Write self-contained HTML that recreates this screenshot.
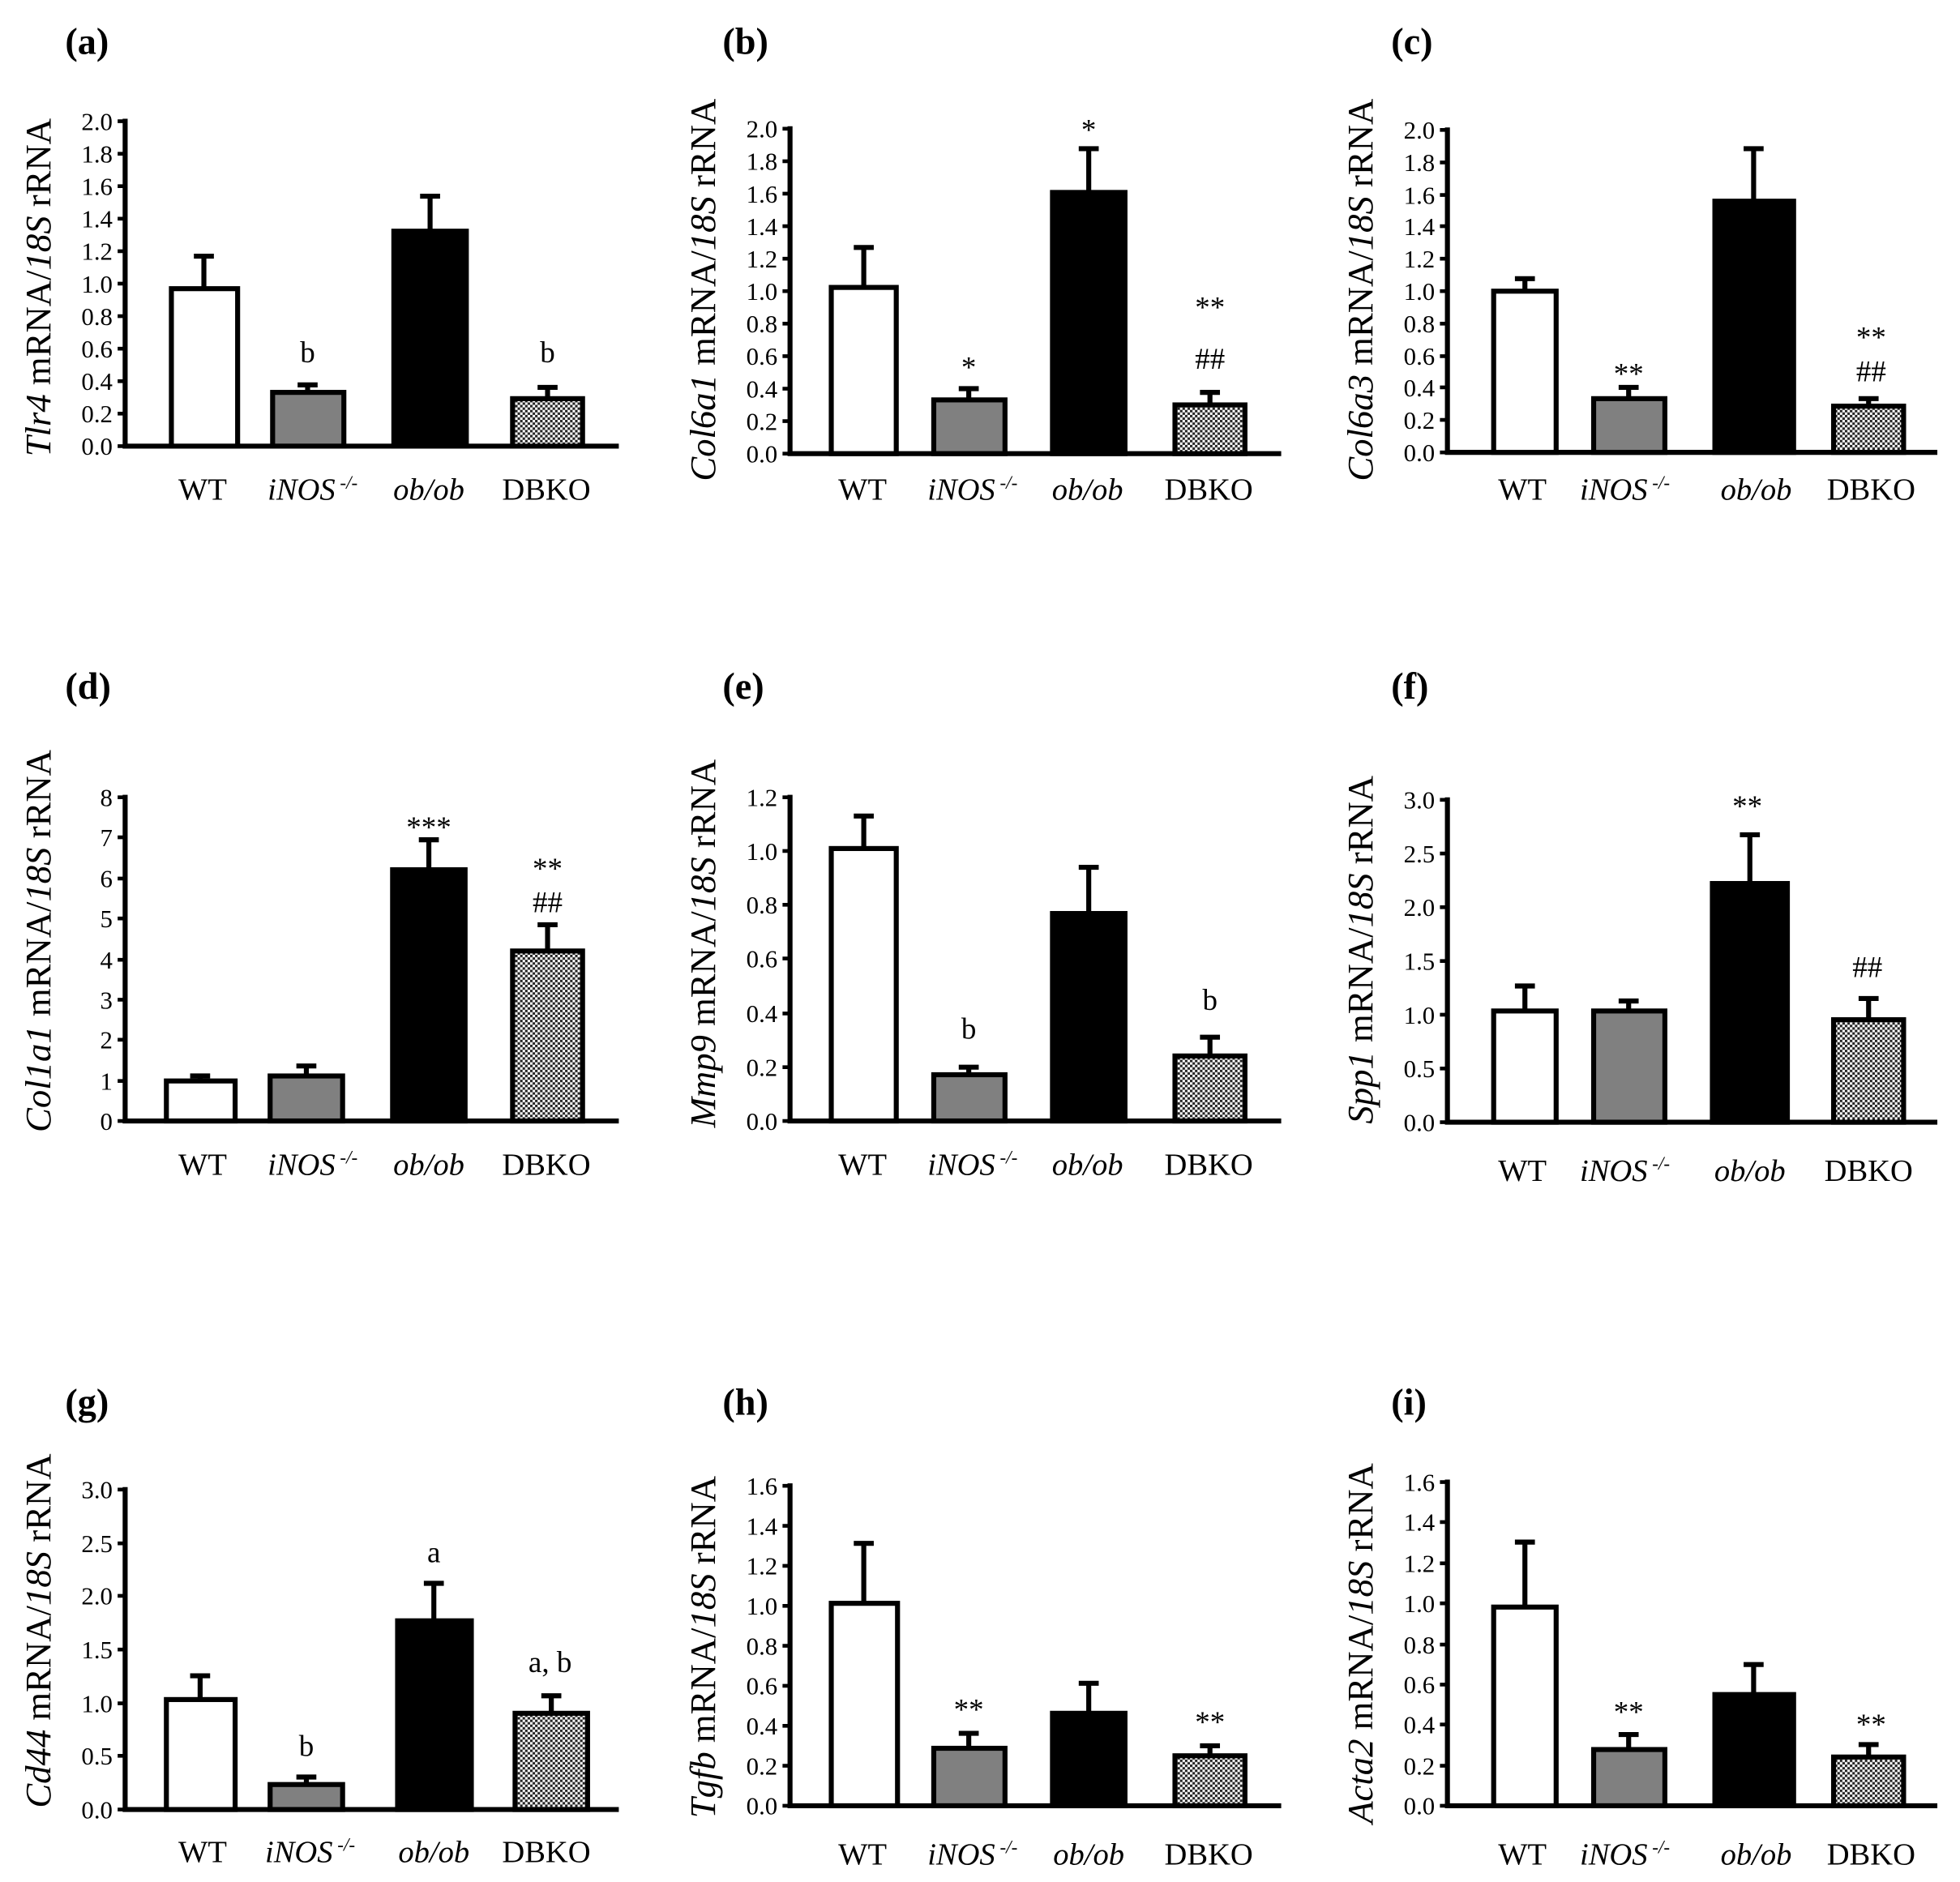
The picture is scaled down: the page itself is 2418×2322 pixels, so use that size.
<!DOCTYPE html>
<html><head><meta charset="utf-8"><style>html,body{margin:0;padding:0;background:#fff}svg{display:block}</style></head>
<body>
<svg xmlns="http://www.w3.org/2000/svg" width="2418" height="2322" viewBox="0 0 1568 1506" font-family="'Liberation Serif', serif">
<defs>
<pattern id="dots" width="4" height="4" patternUnits="userSpaceOnUse">
<rect width="4" height="4" fill="#fff"/><rect width="2" height="2" fill="#222"/><rect x="2" y="2" width="2" height="2" fill="#222"/>
</pattern>
</defs>
<style>
.ax{stroke:#000;stroke-width:4;fill:none}
.tk{stroke:#000;stroke-width:3;fill:none}
.bar{stroke:#000;stroke-width:4}
.eb{stroke:#000;stroke-width:4;fill:none}
.tl{font-size:20px;text-anchor:end}
.xl{font-size:25px;text-anchor:middle}
.pl{font-size:30px;font-weight:bold}
.yt{font-size:29px;text-anchor:middle}
.an{font-size:24px;text-anchor:middle}
</style>

<!-- Panel a -->
<text class="pl" x="52" y="43">(a)</text>
<text class="yt" transform="translate(40,230) rotate(-90)"><tspan font-style="italic">Tlr4</tspan> mRNA/<tspan font-style="italic">18S</tspan> rRNA</text>
<path class="ax" d="M100 95V357H495"/>
<path class="tk" d="M94 357H100M94 331H100M94 305H100M94 279H100M94 253H100M94 227H100M94 201H100M94 175H100M94 149H100M94 123H100M94 97H100"/>
<g class="tl"><text x="90" y="364">0.0</text><text x="90" y="338">0.2</text><text x="90" y="312">0.4</text><text x="90" y="286">0.6</text><text x="90" y="260">0.8</text><text x="90" y="234">1.0</text><text x="90" y="208">1.2</text><text x="90" y="182">1.4</text><text x="90" y="156">1.6</text><text x="90" y="130">1.8</text><text x="90" y="104">2.0</text></g>
<path class="eb" d="M163 231V205M155 205H171M246 314V308M238 308H254M344 185V157M336 157H352M438 319V310M430 310H446"/>
<rect class="bar" x="137" y="231" width="53" height="126" fill="#fff"/>
<rect class="bar" x="218" y="314" width="57" height="43" fill="#808080"/>
<rect class="bar" x="315" y="185" width="58" height="172" fill="#000"/>
<rect class="bar" x="410" y="319" width="56" height="38" fill="url(#dots)"/>
<text class="an" x="246" y="290">b</text><text class="an" x="438" y="290">b</text>
<g class="xl"><text x="162" y="400">WT</text><text x="250" y="400"><tspan font-style="italic">iNOS</tspan><tspan font-size="15" dy="-9" font-style="italic"> -/-</tspan></text><text x="343" y="400" font-style="italic">ob/ob</text><text x="437" y="400">DBKO</text></g>

<!-- Panel b -->
<text class="pl" x="578" y="43">(b)</text>
<text class="yt" transform="translate(572,232) rotate(-90)"><tspan font-style="italic">Col6a1</tspan> mRNA/<tspan font-style="italic">18S</tspan> rRNA</text>
<path class="ax" d="M632 101V363H1025"/>
<path class="tk" d="M626 363H632M626 337H632M626 311H632M626 285H632M626 259H632M626 233H632M626 207H632M626 181H632M626 155H632M626 129H632M626 103H632"/>
<g class="tl"><text x="622" y="370">0.0</text><text x="622" y="344">0.2</text><text x="622" y="318">0.4</text><text x="622" y="292">0.6</text><text x="622" y="266">0.8</text><text x="622" y="240">1.0</text><text x="622" y="214">1.2</text><text x="622" y="188">1.4</text><text x="622" y="162">1.6</text><text x="622" y="136">1.8</text><text x="622" y="110">2.0</text></g>
<path class="eb" d="M691 230V198M683 198H699M775 320V311M767 311H783M871 154V119M863 119H879M968 324V314M960 314H976"/>
<rect class="bar" x="665" y="230" width="52" height="133" fill="#fff"/>
<rect class="bar" x="747" y="320" width="57" height="43" fill="#808080"/>
<rect class="bar" x="842" y="154" width="58" height="209" fill="#000"/>
<rect class="bar" x="940" y="324" width="56" height="39" fill="url(#dots)"/>
<text class="an" x="775" y="302">*</text><text class="an" x="871" y="112">*</text><text class="an" x="968" y="254">**</text><text class="an" x="968" y="295">##</text>
<g class="xl"><text x="690" y="400">WT</text><text x="778" y="400"><tspan font-style="italic">iNOS</tspan><tspan font-size="15" dy="-9" font-style="italic"> -/-</tspan></text><text x="870" y="400" font-style="italic">ob/ob</text><text x="967" y="400">DBKO</text></g>

<!-- Panel c -->
<text class="pl" x="1113" y="43">(c)</text>
<text class="yt" transform="translate(1098,232) rotate(-90)"><tspan font-style="italic">Col6a3</tspan> mRNA/<tspan font-style="italic">18S</tspan> rRNA</text>
<path class="ax" d="M1158 102V362H1550"/>
<path class="tk" d="M1152 362H1158M1152 336H1158M1152 310H1158M1152 285H1158M1152 259H1158M1152 233H1158M1152 207H1158M1152 181H1158M1152 156H1158M1152 130H1158M1152 104H1158"/>
<g class="tl"><text x="1148" y="369">0.0</text><text x="1148" y="343">0.2</text><text x="1148" y="317">0.4</text><text x="1148" y="292">0.6</text><text x="1148" y="266">0.8</text><text x="1148" y="240">1.0</text><text x="1148" y="214">1.2</text><text x="1148" y="188">1.4</text><text x="1148" y="163">1.6</text><text x="1148" y="137">1.8</text><text x="1148" y="111">2.0</text></g>
<path class="eb" d="M1220 233V223M1212 223H1228M1303 319V310M1295 310H1311M1403 161V119M1395 119H1411M1495 325V319M1487 319H1503"/>
<rect class="bar" x="1195" y="233" width="50" height="129" fill="#fff"/>
<rect class="bar" x="1275" y="319" width="57" height="43" fill="#808080"/>
<rect class="bar" x="1372" y="161" width="63" height="201" fill="#000"/>
<rect class="bar" x="1467" y="325" width="56" height="37" fill="url(#dots)"/>
<text class="an" x="1303" y="307">**</text><text class="an" x="1497" y="278">**</text><text class="an" x="1497" y="305">##</text>
<g class="xl"><text x="1218" y="400">WT</text><text x="1300" y="400"><tspan font-style="italic">iNOS</tspan><tspan font-size="15" dy="-9" font-style="italic"> -/-</tspan></text><text x="1405" y="400" font-style="italic">ob/ob</text><text x="1497" y="400">DBKO</text></g>

<!-- Panel d -->
<text class="pl" x="52" y="559">(d)</text>
<text class="yt" transform="translate(40,753) rotate(-90)"><tspan font-style="italic">Col1a1</tspan> mRNA/<tspan font-style="italic">18S</tspan> rRNA</text>
<path class="ax" d="M100 636V897H495"/>
<path class="tk" d="M94 897H100M94 865H100M94 832H100M94 800H100M94 768H100M94 735H100M94 703H100M94 670H100M94 638H100"/>
<g class="tl"><text x="90" y="904">0</text><text x="90" y="872">1</text><text x="90" y="839">2</text><text x="90" y="807">3</text><text x="90" y="775">4</text><text x="90" y="742">5</text><text x="90" y="710">6</text><text x="90" y="677">7</text><text x="90" y="645">8</text></g>
<path class="eb" d="M160 865V861M152 861H168M245 861V853M237 853H253M343 696V672M335 672H351M438 761V740M430 740H446"/>
<rect class="bar" x="133" y="865" width="55" height="32" fill="#fff"/>
<rect class="bar" x="216" y="861" width="58" height="36" fill="#808080"/>
<rect class="bar" x="314" y="696" width="58" height="201" fill="#000"/>
<rect class="bar" x="410" y="761" width="56" height="136" fill="url(#dots)"/>
<text class="an" x="343" y="670">***</text><text class="an" x="438" y="703">**</text><text class="an" x="438" y="730">##</text>
<g class="xl"><text x="162" y="940">WT</text><text x="250" y="940"><tspan font-style="italic">iNOS</tspan><tspan font-size="15" dy="-9" font-style="italic"> -/-</tspan></text><text x="343" y="940" font-style="italic">ob/ob</text><text x="437" y="940">DBKO</text></g>

<!-- Panel e -->
<text class="pl" x="578" y="559">(e)</text>
<text class="yt" transform="translate(572,755) rotate(-90)"><tspan font-style="italic">Mmp9</tspan> mRNA/<tspan font-style="italic">18S</tspan> rRNA</text>
<path class="ax" d="M632 636V897H1025"/>
<path class="tk" d="M626 897H632M626 854H632M626 811H632M626 767H632M626 724H632M626 681H632M626 638H632"/>
<g class="tl"><text x="622" y="904">0.0</text><text x="622" y="861">0.2</text><text x="622" y="818">0.4</text><text x="622" y="774">0.6</text><text x="622" y="731">0.8</text><text x="622" y="688">1.0</text><text x="622" y="645">1.2</text></g>
<path class="eb" d="M691 679V653M683 653H699M775 860V854M767 854H783M871 731V694M863 694H879M968 845V830M960 830H976"/>
<rect class="bar" x="665" y="679" width="52" height="218" fill="#fff"/>
<rect class="bar" x="747" y="860" width="57" height="37" fill="#808080"/>
<rect class="bar" x="842" y="731" width="58" height="166" fill="#000"/>
<rect class="bar" x="940" y="845" width="56" height="52" fill="url(#dots)"/>
<text class="an" x="775" y="831">b</text><text class="an" x="968" y="808">b</text>
<g class="xl"><text x="690" y="940">WT</text><text x="778" y="940"><tspan font-style="italic">iNOS</tspan><tspan font-size="15" dy="-9" font-style="italic"> -/-</tspan></text><text x="870" y="940" font-style="italic">ob/ob</text><text x="967" y="940">DBKO</text></g>

<!-- Panel f -->
<text class="pl" x="1113" y="559">(f)</text>
<text class="yt" transform="translate(1098,760) rotate(-90)"><tspan font-style="italic">Spp1</tspan> mRNA/<tspan font-style="italic">18S</tspan> rRNA</text>
<path class="ax" d="M1158 638V898H1550"/>
<path class="tk" d="M1152 898H1158M1152 855H1158M1152 812H1158M1152 769H1158M1152 726H1158M1152 683H1158M1152 640H1158"/>
<g class="tl"><text x="1148" y="905">0.0</text><text x="1148" y="862">0.5</text><text x="1148" y="819">1.0</text><text x="1148" y="776">1.5</text><text x="1148" y="733">2.0</text><text x="1148" y="690">2.5</text><text x="1148" y="647">3.0</text></g>
<path class="eb" d="M1220 809V789M1212 789H1228M1303 809V801M1295 801H1311M1400 707V668M1392 668H1408M1495 816V799M1487 799H1503"/>
<rect class="bar" x="1195" y="809" width="50" height="89" fill="#fff"/>
<rect class="bar" x="1275" y="809" width="57" height="89" fill="#808080"/>
<rect class="bar" x="1370" y="707" width="60" height="191" fill="#000"/>
<rect class="bar" x="1467" y="816" width="56" height="82" fill="url(#dots)"/>
<text class="an" x="1398" y="653">**</text><text class="an" x="1494" y="782">##</text>
<g class="xl"><text x="1218" y="945">WT</text><text x="1300" y="945"><tspan font-style="italic">iNOS</tspan><tspan font-size="15" dy="-9" font-style="italic"> -/-</tspan></text><text x="1400" y="945" font-style="italic">ob/ob</text><text x="1495" y="945">DBKO</text></g>

<!-- Panel g -->
<text class="pl" x="52" y="1132">(g)</text>
<text class="yt" transform="translate(40,1305) rotate(-90)"><tspan font-style="italic">Cd44</tspan> mRNA/<tspan font-style="italic">18S</tspan> rRNA</text>
<path class="ax" d="M100 1190V1448H495"/>
<path class="tk" d="M94 1448H100M94 1405H100M94 1363H100M94 1320H100M94 1277H100M94 1235H100M94 1192H100"/>
<g class="tl"><text x="90" y="1455">0.0</text><text x="90" y="1412">0.5</text><text x="90" y="1370">1.0</text><text x="90" y="1327">1.5</text><text x="90" y="1284">2.0</text><text x="90" y="1242">2.5</text><text x="90" y="1199">3.0</text></g>
<path class="eb" d="M160 1360V1341M152 1341H168M245 1428V1422M237 1422H253M347 1297V1267M339 1267H355M441 1371V1357M433 1357H449"/>
<rect class="bar" x="133" y="1360" width="55" height="88" fill="#fff"/>
<rect class="bar" x="216" y="1428" width="58" height="20" fill="#808080"/>
<rect class="bar" x="318" y="1297" width="59" height="151" fill="#000"/>
<rect class="bar" x="412" y="1371" width="58" height="77" fill="url(#dots)"/>
<text class="an" x="245" y="1405">b</text><text class="an" x="347" y="1250">a</text><text class="an" x="440" y="1338">a, b</text>
<g class="xl"><text x="162" y="1490">WT</text><text x="248" y="1490"><tspan font-style="italic">iNOS</tspan><tspan font-size="15" dy="-9" font-style="italic"> -/-</tspan></text><text x="347" y="1490" font-style="italic">ob/ob</text><text x="437" y="1490">DBKO</text></g>

<!-- Panel h -->
<text class="pl" x="578" y="1132">(h)</text>
<text class="yt" transform="translate(572,1318) rotate(-90)"><tspan font-style="italic">Tgfb</tspan> mRNA/<tspan font-style="italic">18S</tspan> rRNA</text>
<path class="ax" d="M632 1187V1445H1025"/>
<path class="tk" d="M626 1445H632M626 1413H632M626 1381H632M626 1349H632M626 1317H632M626 1285H632M626 1253H632M626 1221H632M626 1189H632"/>
<g class="tl"><text x="622" y="1452">0.0</text><text x="622" y="1420">0.2</text><text x="622" y="1388">0.4</text><text x="622" y="1356">0.6</text><text x="622" y="1324">0.8</text><text x="622" y="1292">1.0</text><text x="622" y="1260">1.2</text><text x="622" y="1228">1.4</text><text x="622" y="1196">1.6</text></g>
<path class="eb" d="M691 1283V1235M683 1235H699M775 1399V1387M767 1387H783M871 1371V1347M863 1347H879M968 1405V1397M960 1397H976"/>
<rect class="bar" x="665" y="1283" width="53" height="162" fill="#fff"/>
<rect class="bar" x="747" y="1399" width="57" height="46" fill="#808080"/>
<rect class="bar" x="842" y="1371" width="58" height="74" fill="#000"/>
<rect class="bar" x="940" y="1405" width="56" height="40" fill="url(#dots)"/>
<text class="an" x="775" y="1376">**</text><text class="an" x="968" y="1386">**</text>
<g class="xl"><text x="690" y="1492">WT</text><text x="778" y="1492"><tspan font-style="italic">iNOS</tspan><tspan font-size="15" dy="-9" font-style="italic"> -/-</tspan></text><text x="871" y="1492" font-style="italic">ob/ob</text><text x="967" y="1492">DBKO</text></g>

<!-- Panel i -->
<text class="pl" x="1113" y="1132">(i)</text>
<text class="yt" transform="translate(1098,1315) rotate(-90)"><tspan font-style="italic">Acta2</tspan> mRNA/<tspan font-style="italic">18S</tspan> rRNA</text>
<path class="ax" d="M1158 1184V1445H1550"/>
<path class="tk" d="M1152 1445H1158M1152 1413H1158M1152 1380H1158M1152 1348H1158M1152 1316H1158M1152 1283H1158M1152 1251H1158M1152 1218H1158M1152 1186H1158"/>
<g class="tl"><text x="1148" y="1452">0.0</text><text x="1148" y="1420">0.2</text><text x="1148" y="1387">0.4</text><text x="1148" y="1355">0.6</text><text x="1148" y="1323">0.8</text><text x="1148" y="1290">1.0</text><text x="1148" y="1258">1.2</text><text x="1148" y="1225">1.4</text><text x="1148" y="1193">1.6</text></g>
<path class="eb" d="M1220 1286V1234M1212 1234H1228M1303 1400V1388M1295 1388H1311M1403 1356V1332M1395 1332H1411M1495 1406V1396M1487 1396H1503"/>
<rect class="bar" x="1195" y="1286" width="50" height="159" fill="#fff"/>
<rect class="bar" x="1275" y="1400" width="57" height="45" fill="#808080"/>
<rect class="bar" x="1372" y="1356" width="63" height="89" fill="#000"/>
<rect class="bar" x="1467" y="1406" width="56" height="39" fill="url(#dots)"/>
<text class="an" x="1303" y="1378">**</text><text class="an" x="1497" y="1388">**</text>
<g class="xl"><text x="1218" y="1492">WT</text><text x="1300" y="1492"><tspan font-style="italic">iNOS</tspan><tspan font-size="15" dy="-9" font-style="italic"> -/-</tspan></text><text x="1405" y="1492" font-style="italic">ob/ob</text><text x="1497" y="1492">DBKO</text></g>
</svg>
</body></html>
